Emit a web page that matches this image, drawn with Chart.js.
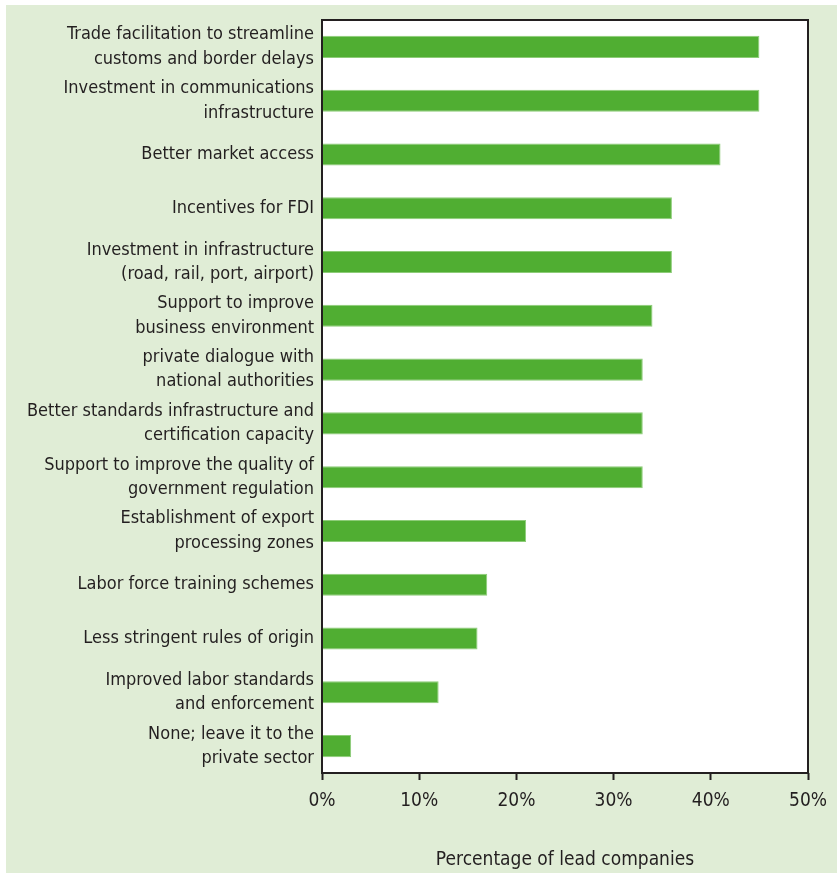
<!DOCTYPE html>
<html>
<head>
<meta charset="utf-8">
<script src="https://cdn.jsdelivr.net/npm/chart.js@4"></script>
<style>
  html, body { margin: 0; padding: 0; background: #ffffff; }
  #panel {
    position: absolute;
    left: 6px;
    top: 5px;
    width: 831px;
    height: 868px;
    background: #e0edd6;
  }
</style>
</head>
<body>
<div id="panel">
  <canvas id="policyChart" width="831" height="868"></canvas>
</div>
<script>
/*====================================
     Policy support for lead firms
====================================*/

const categories = [
    ["Trade facilitation to streamline", "customs and border delays"],
    ["Investment in communications", "infrastructure"],
    "Better market access",
    "Incentives for FDI",
    ["Investment in infrastructure", "(road, rail, port, airport)"],
    ["Support to improve", "business environment"],
    ["private dialogue with", "national authorities"],
    ["Better standards infrastructure and", "certification capacity"],
    ["Support to improve the quality of", "government regulation"],
    ["Establishment of export", "processing zones"],
    "Labor force training schemes",
    "Less stringent rules of origin",
    ["Improved labor standards", "and enforcement"],
    ["None; leave it to the", "private sector"]
];

const shareOfLeadCompanies = [45, 45, 41, 36, 36, 34, 33, 33, 33, 21, 17, 16, 12, 3];

const xTicks = [0, 10, 20, 30, 40, 50];

const ink = "#231f20";
const labelFont = "'Liberation Sans Narrow', 'Arial Narrow', 'DejaVu Sans Condensed', sans-serif";

// white plot area with a dark frame
const plotFrame = {
    id: "plotFrame",
    beforeDatasetsDraw(chart) {
        const { ctx, chartArea: a } = chart;
        ctx.save();
        ctx.fillStyle = "#ffffff";
        ctx.fillRect(a.left, a.top, a.right - a.left, a.bottom - a.top);
        ctx.restore();
    },
    afterDatasetsDraw(chart) {
        const { ctx, chartArea: a } = chart;
        ctx.save();
        ctx.strokeStyle = ink;
        ctx.lineWidth = 2;
        ctx.strokeRect(a.left, a.top, a.right - a.left, a.bottom - a.top);
        ctx.restore();
    }
};

new Chart(document.getElementById("policyChart"), {

    type: "bar",

    data: {

        labels: categories,

        datasets: [{

            data: shareOfLeadCompanies,

            backgroundColor: "#50ae32",

            borderColor: "#8dcc78",

            borderWidth: 1,

            borderSkipped: "left",

            barPercentage: 0.82,

            categoryPercentage: 0.5

        }]

    },

    options: {

        indexAxis: "y",

        responsive: false,

        animation: false,

        layout: { padding: { top: 15, right: 29, left: 0, bottom: 0 } },

        plugins: {
            legend: { display: false },
            tooltip: { enabled: false }
        },

        scales: {

            x: {
                min: 0,
                max: 50,
                afterBuildTicks: scale => {
                    scale.ticks = xTicks.map(v => ({ value: v }));
                },
                afterFit: scale => { scale.height = 100; },
                grid: {
                    drawOnChartArea: false,
                    drawTicks: true,
                    tickLength: 7,
                    tickWidth: 2,
                    color: ink
                },
                border: { display: false },
                ticks: {
                    color: ink,
                    padding: 10,
                    font: { family: labelFont, size: 19 },
                    callback: v => v + "%"
                },
                title: {
                    display: true,
                    text: "Percentage of lead companies",
                    color: ink,
                    font: { family: labelFont, size: 19 },
                    padding: { top: 0, bottom: 2 }
                }
            },

            y: {
                afterFit: scale => {
                    scale.width = 316;
                    scale.paddingTop = 0;
                    scale.paddingBottom = 0;
                },
                grid: { display: false, drawTicks: false },
                border: { display: false },
                ticks: {
                    color: ink,
                    padding: 8,
                    font: { family: labelFont, size: 18, lineHeight: 1.35 }
                }
            }

        }

    },

    plugins: [plotFrame]

});
</script>
</body>
</html>
